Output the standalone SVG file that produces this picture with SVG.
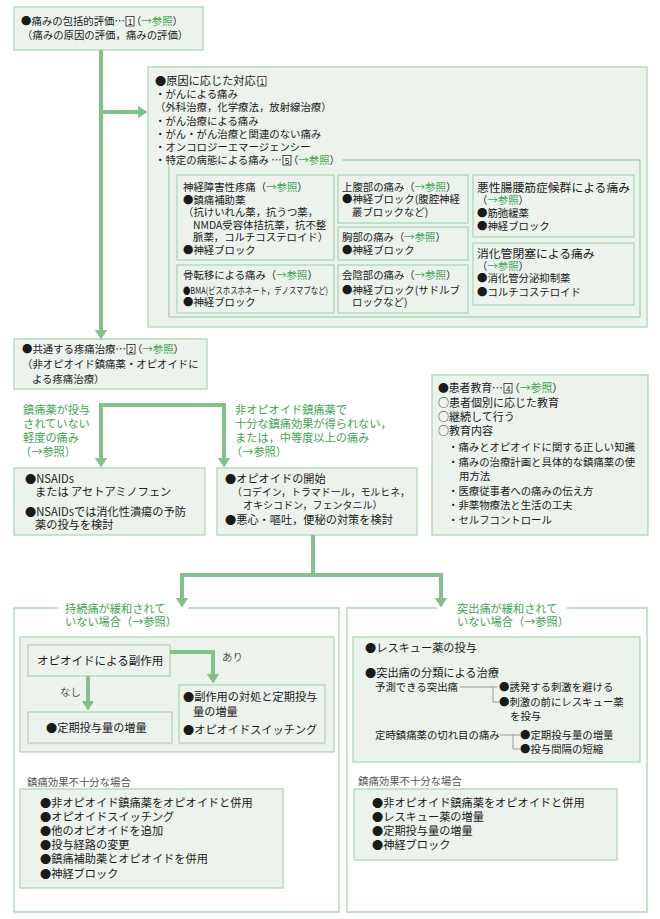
<svg xmlns="http://www.w3.org/2000/svg" width="660" height="919" viewBox="0 0 660 919">
<style>
text { font-family: "Noto Sans CJK JP", "Noto Sans CJK SC", sans-serif; font-size: 10.4px; fill: #1a1a1a; }
.m { font-size: 11.2px; }
.s { font-size: 10px; }
.h { font-size: 11.8px; }
.g { fill: #3fa452; }
.gr { fill: #555; }
.box { fill: #ecf3ed; stroke: #a8d5b0; stroke-width: 1.2; }
.frame { fill: none; stroke: #a8d5b0; stroke-width: 1.3; }
.bracket { fill: none; stroke: #8fc798; stroke-width: 1; }
.conn { fill: none; stroke: #82c08c; stroke-width: 4; }
.thin { fill: none; stroke: #999; stroke-width: 1; }
.nb { fill: #fff; stroke: #222; stroke-width: 0.8; }
.nd { font-family: "Liberation Sans", sans-serif; font-size: 8.5px; text-anchor: middle; fill: #111; }
</style>
<defs>
<marker id="ah" viewBox="0 0 10 13" refX="0.5" refY="6.5" markerWidth="10" markerHeight="13" markerUnits="userSpaceOnUse" orient="auto-start-reverse">
<path d="M0,0 L10,6.5 L0,13z" fill="#82c08c"/>
</marker>
</defs>

<g id="n-eval">
<rect class="box" x="14" y="7" width="189" height="43"/>
<text x="21" y="25">●痛みの包括的評価…</text>
<rect class="nb" x="126" y="16.5" width="8" height="9.5"/>
<text class="nd" x="130" y="24.5">1</text>
<text x="131" y="25">（<tspan class="g">→参照</tspan>）</text>
<text x="22" y="39">（痛みの原因の評価，痛みの評価）</text>
</g>

<g id="n-cause">
<rect class="box" x="148" y="67" width="499" height="260"/>
<text class="m" x="155" y="85">●原因に応じた対応…</text>
<rect class="nb" x="258" y="76.5" width="8" height="9.5"/>
<text class="nd" x="262" y="84.5">1</text>
<text x="155" y="98">・がんによる痛み</text>
<text x="155" y="111">（外科治療，化学療法，放射線治療）</text>
<text x="155" y="125">・がん治療による痛み</text>
<text x="155" y="138">・がん・がん治療と関連のない痛み</text>
<text x="155" y="151">・オンコロジーエマージェンシー</text>
<text x="155" y="164">・特定の病態による痛み …</text>
<rect class="nb" x="283" y="155.5" width="8" height="9.5"/>
<text class="nd" x="287" y="163.5">5</text>
<text x="288" y="164">（<tspan class="g">→参照</tspan>）</text>
<path class="bracket" d="M342 160 H640 V317 H169 V166"/>
</g>

<g id="n-neuro">
<rect class="box" x="177" y="175" width="157" height="85"/>
<text x="183" y="191">神経障害性疼痛（<tspan class="g">→参照</tspan>）</text>
<text x="183" y="204">●鎮痛補助薬</text>
<text x="183" y="216">（抗けいれん薬，抗うつ薬，</text>
<text x="193" y="229">NMDA受容体拮抗薬，抗不整</text>
<text x="193" y="241">脈薬，コルチコステロイド）</text>
<text x="183" y="254">●神経ブロック</text>
</g>

<g id="n-bone">
<rect class="box" x="177" y="265" width="157" height="48"/>
<text x="183" y="279">骨転移による痛み（<tspan class="g">→参照</tspan>）</text>
<text x="183" y="294" style="font-size:9.5px" textLength="145" lengthAdjust="spacingAndGlyphs">●BMA(ビスホスホネート，デノスマブなど)</text>
<text x="183" y="306">●神経ブロック</text>
</g>

<g id="n-upper">
<rect class="box" x="338" y="175" width="130" height="48"/>
<text x="342" y="191">上腹部の痛み（<tspan class="g">→参照</tspan>）</text>
<text x="342" y="203">●神経ブロック(腹腔神経</text>
<text x="352" y="216">叢ブロックなど)</text>
</g>

<g id="n-chest">
<rect class="box" x="338" y="227" width="130" height="33"/>
<text x="342" y="241">胸部の痛み（<tspan class="g">→参照</tspan>）</text>
<text x="342" y="254">●神経ブロック</text>
</g>

<g id="n-perineum">
<rect class="box" x="338" y="265" width="130" height="48"/>
<text x="342" y="279">会陰部の痛み（<tspan class="g">→参照</tspan>）</text>
<text x="342" y="294">●神経ブロック(サドルブ</text>
<text x="352" y="306">ロックなど)</text>
</g>

<g id="n-psoas">
<rect class="box" x="473" y="175" width="161" height="62"/>
<text class="h" x="477" y="192">悪性腸腰筋症候群による痛み</text>
<text x="477" y="204">（<tspan class="g">→参照</tspan>）</text>
<text x="477" y="217">●筋弛緩薬</text>
<text x="477" y="230">●神経ブロック</text>
</g>

<g id="n-gi">
<rect class="box" x="473" y="243" width="161" height="62"/>
<text class="h" x="477" y="258">消化管閉塞による痛み</text>
<text x="477" y="270">（<tspan class="g">→参照</tspan>）</text>
<text x="477" y="282">●消化管分泌抑制薬</text>
<text x="477" y="296">●コルチコステロイド</text>
</g>

<g id="n-common">
<rect class="box" x="14" y="339" width="193" height="50"/>
<text x="22" y="353">●共通する疼痛治療…</text>
<rect class="nb" x="127" y="344.5" width="8" height="9.5"/>
<text class="nd" x="131" y="352.5">2</text>
<text x="132" y="353">（<tspan class="g">→参照</tspan>）</text>
<text x="22" y="368">（非オピオイド鎮痛薬・オピオイドに</text>
<text x="32" y="383">よる疼痛治療）</text>
</g>

<g id="l-mild">
<text class="m g" x="23" y="414">鎮痛薬が投与</text>
<text class="m g" x="23" y="428">されていない</text>
<text class="m g" x="23" y="442">軽度の痛み</text>
<text class="m g" x="20" y="456">（→参照）</text>
</g>

<g id="l-moderate">
<text class="m g" x="235" y="414">非オピオイド鎮痛薬で</text>
<text class="m g" x="235" y="428">十分な鎮痛効果が得られない，</text>
<text class="m g" x="235" y="442">または，中等度以上の痛み</text>
<text class="m g" x="231" y="456">（→参照）</text>
</g>

<g id="n-edu">
<rect class="box" x="432" y="375" width="216" height="160"/>
<text x="438" y="392" style="font-size:10.8px">●患者教育…</text>
<rect class="nb" x="504" y="383.5" width="8" height="9.5"/>
<text class="nd" x="508" y="391.5">4</text>
<text x="509" y="392" style="font-size:10.8px">（<tspan class="g">→参照</tspan>）</text>
<text x="438" y="407" style="font-size:11px">○患者個別に応じた教育</text>
<text x="438" y="421" style="font-size:11px">○継続して行う</text>
<text x="438" y="435" style="font-size:11px">○教育内容</text>
<text x="448" y="451">・痛みとオピオイドに関する正しい知識</text>
<text x="448" y="466">・痛みの治療計画と具体的な鎮痛薬の使</text>
<text x="459" y="480">用方法</text>
<text x="448" y="495">・医療従事者への痛みの伝え方</text>
<text x="448" y="509">・非薬物療法と生活の工夫</text>
<text x="448" y="524">・セルフコントロール</text>
</g>

<g id="n-nsaids">
<rect class="box" x="14" y="468" width="191" height="67"/>
<text class="m" x="25" y="483">●NSAIDs</text>
<text class="m" x="35" y="496">または アセトアミノフェン</text>
<text class="m" x="25" y="516">●NSAIDsでは消化性潰瘍の予防</text>
<text class="m" x="35" y="529">薬の投与を検討</text>
</g>

<g id="n-opioid">
<rect class="box" x="217" y="468" width="200" height="67"/>
<text class="m" x="225" y="483">●オピオイドの開始</text>
<text class="s" x="232" y="496" textLength="178" lengthAdjust="spacingAndGlyphs">（コデイン，トラマドール，モルヒネ，</text>
<text class="s" x="243" y="509">オキシコドン，フェンタニル）</text>
<text class="m" x="225" y="524">●悪心・嘔吐，便秘の対策を検討</text>
</g>

<g id="n-persistent">
<path class="frame" d="M58 608 H14 V912 H339 V608 H188"/>
<text class="m g" x="65" y="613">持続痛が緩和されて</text>
<text class="m g" x="65" y="626">いない場合（→参照）</text>
<rect class="box" x="20" y="637" width="314" height="115"/>
<text class="gr" x="27" y="786">鎮痛効果不十分な場合</text>
<rect class="box" x="20" y="789" width="263" height="99"/>
<text class="m" x="40" y="807">●非オピオイド鎮痛薬をオピオイドと併用</text>
<text class="m" x="40" y="821">●オピオイドスイッチング</text>
<text class="m" x="40" y="835">●他のオピオイドを追加</text>
<text class="m" x="40" y="849">●投与経路の変更</text>
<text class="m" x="40" y="863">●鎮痛補助薬とオピオイドを併用</text>
<text class="m" x="40" y="878">●神経ブロック</text>
</g>

<g id="n-sideeffect">
<rect class="box" x="28" y="645" width="142" height="31"/>
<text class="m" x="37" y="665" style="font-size:11.5px">オピオイドによる副作用</text>
</g>

<g id="l-yes-no">
<text class="gr" x="222" y="661">あり</text>
<text class="gr" x="60" y="696">なし</text>
</g>

<g id="n-increase">
<rect class="box" x="28" y="712" width="144" height="31"/>
<text class="m" x="46" y="732">●定期投与量の増量</text>
</g>

<g id="n-manage">
<rect class="box" x="179" y="685" width="146" height="58"/>
<text class="m" x="183" y="701">●副作用の対処と定期投与</text>
<text class="m" x="193" y="716">量の増量</text>
<text class="m" x="183" y="734">●オピオイドスイッチング</text>
</g>

<g id="n-breakthrough">
<path class="frame" d="M437 608 H347 V912 H647 V608 H567"/>
<text class="m g" x="457" y="613">突出痛が緩和されて</text>
<text class="m g" x="457" y="626">いない場合（→参照）</text>
<rect class="box" x="353" y="637" width="287" height="125"/>
<text class="m" x="365" y="652">●レスキュー薬の投与</text>
<text class="m" x="365" y="677">●突出痛の分類による治療</text>
<text x="375" y="691">予測できる突出痛</text>
<text x="499" y="691">●誘発する刺激を避ける</text>
<text x="499" y="706">●刺激の前にレスキュー薬</text>
<text x="510" y="720">を投与</text>
<text x="375" y="739">定時鎮痛薬の切れ目の痛み</text>
<text x="520" y="739">●定期投与量の増量</text>
<text x="520" y="753">●投与間隔の短縮</text>
<text class="gr" x="358" y="785">鎮痛効果不十分な場合</text>
<rect class="box" x="354" y="789" width="263" height="71"/>
<text class="m" x="372" y="807">●非オピオイド鎮痛薬をオピオイドと併用</text>
<text class="m" x="372" y="821">●レスキュー薬の増量</text>
<text class="m" x="372" y="835">●定期投与量の増量</text>
<text class="m" x="372" y="849">●神経ブロック</text>
</g>

<g id="connectors">
<path class="conn" d="M101 50 V330" marker-end="url(#ah)"/>
<path class="conn" d="M101 112 H138" marker-end="url(#ah)"/>
<path class="conn" d="M101 458 V405 H224 V458" marker-start="url(#ah)" marker-end="url(#ah)"/>
<path class="conn" d="M313 535 V575"/>
<path class="conn" d="M182 598 V575 H441 V598" marker-start="url(#ah)" marker-end="url(#ah)"/>
<path class="conn" d="M170 652 H213 V674" marker-end="url(#ah)"/>
<path class="conn" d="M88 676 V701" marker-end="url(#ah)"/>
<path class="thin" d="M460 687 H497 M493 687 V702 H499"/>
<path class="thin" d="M500 735 H520 M513 735 V749 H520"/>
</g>
</svg>
